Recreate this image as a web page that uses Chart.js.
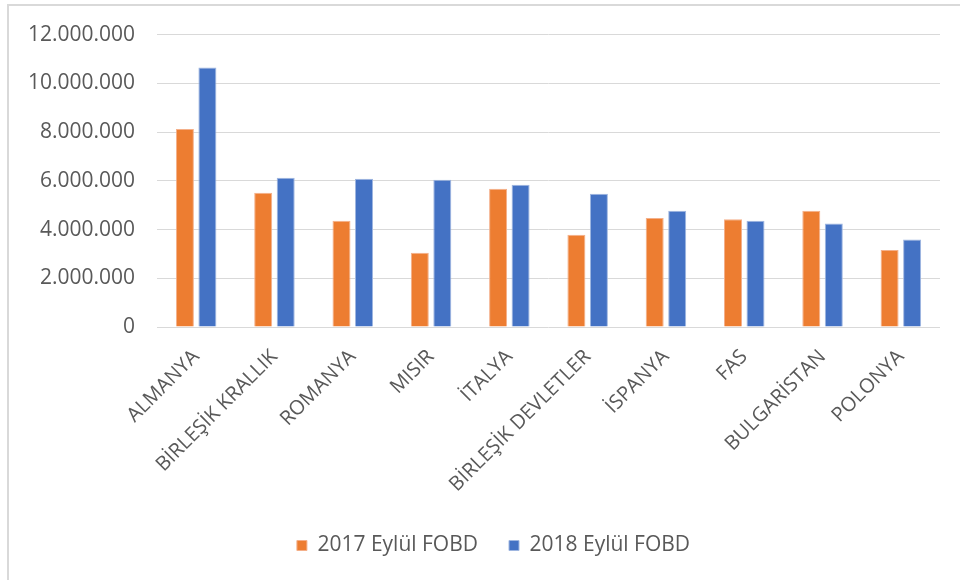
<!DOCTYPE html>
<html>
<head>
<meta charset="utf-8">
<script src="https://cdn.jsdelivr.net/npm/chart.js@4"></script>
<style>
  html, body { margin: 0; padding: 0; background: #fff; }
  #frame {
    position: absolute; left: 7px; top: 4px; width: 953px; height: 576px;
    border-top: 2px solid #d9d9d9; border-left: 2px solid #d9d9d9;
  }
  #myChart { position: absolute; left: 9px; top: 0; display: block; }
</style>
</head>
<body>
<div id="frame"></div>
<canvas id="myChart" width="951" height="580"></canvas>
<script>
var countries = ["ALMANYA", "BİRLEŞİK KRALLIK", "ROMANYA", "MISIR", "İTALYA",
  "BİRLEŞİK DEVLETLER", "İSPANYA", "FAS", "BULGARİSTAN", "POLONYA"];
var sept2017 = [8130000, 5510000, 4360000, 3050000, 5670000, 3790000, 4470000, 4420000, 4770000, 3160000];
var sept2018 = [10650000, 6130000, 6080000, 6040000, 5840000, 5470000, 4770000, 4360000, 4250000, 3590000];
var yTicks = [0, 2000000, 4000000, 6000000, 8000000, 10000000, 12000000];

var textColor = "#595959";
var fontName = "'Open Sans', 'Liberation Sans', sans-serif";

function dots(v) {
  return String(v).replace(/\B(?=(\d{3})+(?!\d))/g, ".");
}

// the legend in the original sits a bit right of the centre
var legendShift = {
  id: "legendShift",
  afterLayout: function (chart) {
    chart.legend.left += 19;
    chart.legend.right += 19;
  }
};

var ctx = document.getElementById("myChart").getContext("2d");
var myChart = new Chart(ctx, {
  type: "bar",
  data: {
    labels: countries,
    datasets: [{
      label: "2017 Eylül FOBD",
      data: sept2017,
      backgroundColor: "#ED7D31",
      borderColor: "#F4B08A",
      borderWidth: 1,
      categoryPercentage: 0.575,
      barPercentage: 0.8
    }, {
      label: "2018 Eylül FOBD",
      data: sept2018,
      backgroundColor: "#4472C4",
      borderColor: "#9FB6E0",
      borderWidth: 1,
      categoryPercentage: 0.575,
      barPercentage: 0.8
    }]
  },
  plugins: [legendShift],
  options: {
    responsive: false,
    animation: false,
    layout: { padding: { top: 16, right: 20, bottom: 14, left: 0 } },
    plugins: {
      tooltip: { enabled: false },
      legend: {
        position: "bottom",
        labels: {
          color: textColor,
          font: { family: fontName, size: 21 },
          boxWidth: 10,
          boxHeight: 10,
          padding: 31
        }
      }
    },
    scales: {
      x: {
        grid: { display: false, drawTicks: false },
        border: { display: false },
        ticks: {
          color: textColor,
          font: { family: fontName, size: 20 },
          autoSkip: false,
          minRotation: 45,
          maxRotation: 45,
          padding: 18
        },
        afterFit: function (scale) { scale.height = 177; }
      },
      y: {
        min: 0,
        max: 12000000,
        afterBuildTicks: function (scale) {
          scale.ticks = yTicks.map(function (v) { return { value: v }; });
        },
        grid: { color: "#d9d9d9", lineWidth: 1, drawTicks: false },
        border: { display: false },
        ticks: {
          color: textColor,
          font: { family: fontName, size: 21 },
          padding: 22,
          callback: function (v) { return dots(v); }
        },
        afterFit: function (scale) { scale.width = 148; }
      }
    }
  }
});
</script>
</body>
</html>
